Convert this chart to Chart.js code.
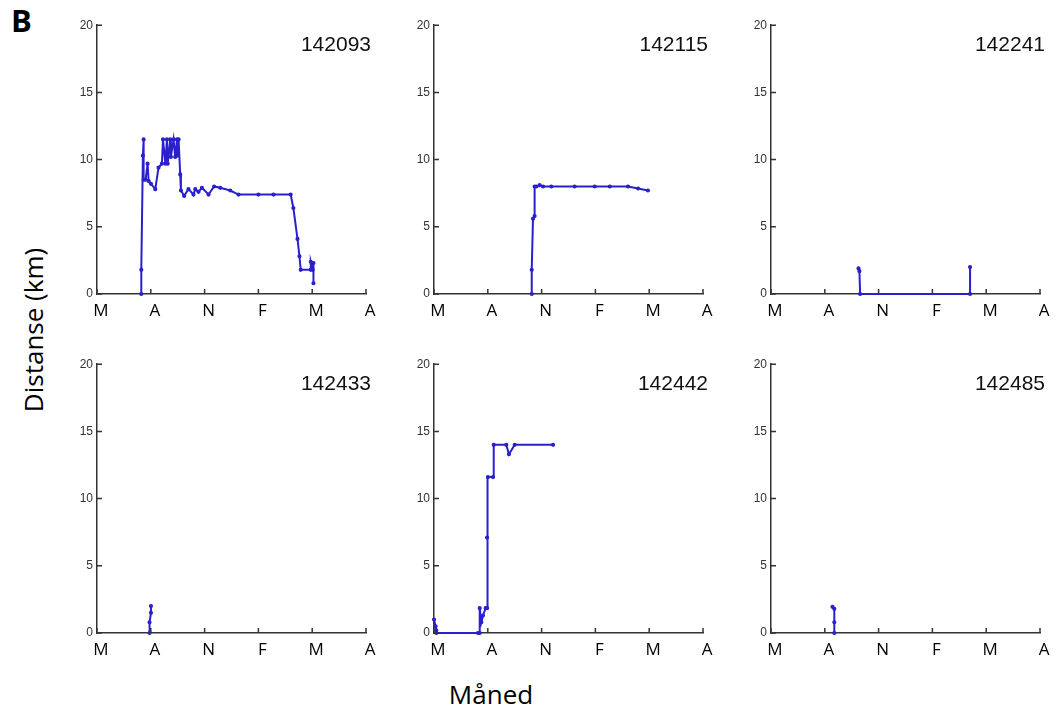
<!DOCTYPE html>
<html><head><meta charset="utf-8">
<script src="https://cdn.jsdelivr.net/npm/chart.js@4/dist/chart.umd.min.js"></script>
<style>
html,body{margin:0;padding:0;background:#fff}
#page{position:relative;width:1057px;height:719px;overflow:hidden;background:#fff}
canvas{position:absolute}
.lbl{position:absolute;white-space:nowrap;color:#000}
.pid{position:absolute;font-family:"Liberation Sans",Arial,sans-serif;font-size:21px;color:#111;transform:translate(-100%,-50%);white-space:nowrap}
</style></head><body>
<div id="page">
  <div class="lbl" style="left:11px;top:5px;font-family:'Open Sans',sans-serif;font-weight:bold;font-size:31px;line-height:30px">B</div>
  <div class="lbl" style="left:33px;top:330px;font-family:'Open Sans',sans-serif;font-size:26px;transform:translate(-50%,-50%) rotate(-90deg)">Distanse (km)</div>
  <div class="lbl" style="left:491px;top:694px;font-family:'Open Sans',sans-serif;font-size:26px;transform:translate(-50%,-50%)">Måned</div>
</div>
<script>
// ---- data ----
const monthTicks = [0, 3, 6, 9, 12, 15];
const monthLabels = ['M', 'A', 'N', 'F', 'M', 'A'];
const kmTicks = [0, 5, 10, 15, 20];
const panelIds = ['142093', '142115', '142241', '142433', '142442', '142485'];

const months142093 = [2.47, 2.47, 2.56, 2.60, 2.60, 2.71, 2.82, 2.88, 3.01, 3.25, 3.43, 3.62, 3.68, 3.81, 3.90, 3.94, 4.08, 4.12, 4.27, 4.36, 4.46, 4.49, 4.55, 4.64, 4.68, 4.86, 5.10, 5.38, 5.48, 5.66, 5.85, 6.22, 6.53, 6.87, 7.43, 7.89, 9.00, 9.84, 10.80, 10.95, 11.18, 11.29, 11.36, 11.92, 11.92, 12.03, 12.07, 12.07];
const km142093     = [0.0, 1.8, 10.3, 11.5, 8.5, 8.5, 9.7, 8.4, 8.2, 7.8, 9.4, 9.7, 11.5, 9.7, 11.5, 9.7, 11.5, 10.2, 11.5, 10.2, 11.5, 10.3, 11.5, 8.9, 7.7, 7.3, 7.8, 7.4, 7.8, 7.6, 7.9, 7.4, 8.0, 7.9, 7.7, 7.4, 7.4, 7.4, 7.4, 6.4, 4.1, 2.8, 1.8, 1.8, 2.4, 1.8, 2.3, 0.8];

const months142115 = [5.45, 5.45, 5.52, 5.61, 5.61, 5.71, 5.89, 6.08, 6.54, 7.84, 8.96, 9.80, 10.82, 11.38, 11.93];
const km142115     = [0.0, 1.8, 5.6, 5.8, 8.0, 8.0, 8.1, 8.0, 8.0, 8.0, 8.0, 8.0, 8.0, 7.85, 7.7];

const months142241 = [4.88, 4.93, 4.97, 11.10, 11.10];
const km142241     = [1.9, 1.7, 0.0, 0.0, 2.0];

const months142433 = [2.93, 2.93, 3.01, 3.01];
const km142433     = [0.0, 0.8, 1.5, 2.0];

const months142442 = [0.0, 0.09, 0.13, 0.13, 2.45, 2.55, 2.55, 2.64, 2.73, 2.88, 2.96, 2.96, 3.01, 3.29, 3.33, 4.03, 4.18, 4.50, 6.64];
const km142442     = [1.0, 0.5, 0.2, 0.0, 0.0, 0.0, 1.85, 0.8, 1.3, 1.85, 1.85, 7.1, 11.6, 11.6, 14.0, 14.0, 13.3, 14.0, 14.0];

const months142485 = [3.43, 3.53, 3.53, 3.53];
const km142485     = [1.95, 1.8, 0.8, 0.0];

const series = [
  [months142093, km142093], [months142115, km142115], [months142241, km142241],
  [months142433, km142433], [months142442, km142442], [months142485, km142485]
];

// ---- layout ----
const plotLefts = [97, 434, 771];
const plotTops = [24, 363];
const plotW = 269, plotH = 270;
const padL = 50, padT = 10, padR = 14, padB = 40;
const lineColor = '#2a20cc';

const inwardTicks = {
  id: 'inwardTicks',
  afterDraw(chart) {
    const ctx = chart.ctx, xs = chart.scales.x, ys = chart.scales.y, a = chart.chartArea;
    ctx.save();
    ctx.strokeStyle = '#333';
    ctx.lineWidth = 1.5;
    ctx.beginPath();
    monthTicks.forEach(v => { const px = xs.getPixelForValue(v); ctx.moveTo(px, a.bottom); ctx.lineTo(px, a.bottom - 5); });
    kmTicks.forEach(v => { const py = ys.getPixelForValue(v); ctx.moveTo(a.left, py); ctx.lineTo(a.left + 5, py); });
    ctx.stroke();
    ctx.restore();
  }
};

const page = document.getElementById('page');
series.forEach((s, i) => {
  const col = i % 3, row = Math.floor(i / 3);
  const cv = document.createElement('canvas');
  const w = padL + plotW + padR, h = padT + plotH + padB;
  cv.width = w; cv.height = h;
  cv.style.left = (plotLefts[col] - padL) + 'px';
  cv.style.top = (plotTops[row] - padT) + 'px';
  cv.style.width = w + 'px'; cv.style.height = h + 'px';
  page.appendChild(cv);

  const lab = document.createElement('div');
  lab.className = 'pid';
  lab.textContent = panelIds[i];
  lab.style.left = (plotLefts[col] + plotW + 5) + 'px';
  lab.style.top = (plotTops[row] + 20) + 'px';
  page.appendChild(lab);

  const pts = s[0].map((m, k) => ({ x: m, y: s[1][k] }));
  new Chart(cv, {
    type: 'scatter',
    data: { datasets: [{ data: pts, showLine: true, borderColor: lineColor, backgroundColor: lineColor,
      borderWidth: 2, pointRadius: 1.1, pointHoverRadius: 0, tension: 0, clip: false }] },
    options: {
      responsive: false, animation: false, devicePixelRatio: 1,
      layout: { padding: { left: 0, top: padT, right: padR, bottom: 0 } },
      plugins: { legend: { display: false }, tooltip: { enabled: false } },
      scales: {
        x: {
          type: 'linear', min: 0, max: 15,
          afterBuildTicks: sc => { sc.ticks = monthTicks.map(v => ({ value: v })); },
          afterFit: sc => { sc.height = padB; },
          grid: { display: false, drawTicks: false },
          border: { display: true, color: '#333', width: 1.5 },
          ticks: { padding: 7, labelOffset: 4, color: '#000', maxRotation: 0, autoSkip: false,
            font: { family: "'Open Sans', sans-serif", size: 17 },
            callback: v => monthLabels[monthTicks.indexOf(v)] }
        },
        y: {
          type: 'linear', min: 0, max: 20,
          afterBuildTicks: sc => { sc.ticks = kmTicks.map(v => ({ value: v })); },
          afterFit: sc => { sc.width = padL; },
          grid: { display: false, drawTicks: false },
          border: { display: true, color: '#333', width: 1.5 },
          ticks: { padding: 4, color: '#333',
            font: { family: "'Liberation Sans', Arial, sans-serif", size: 12 } }
        }
      }
    },
    plugins: [inwardTicks]
  });
});
</script>
</body></html>
